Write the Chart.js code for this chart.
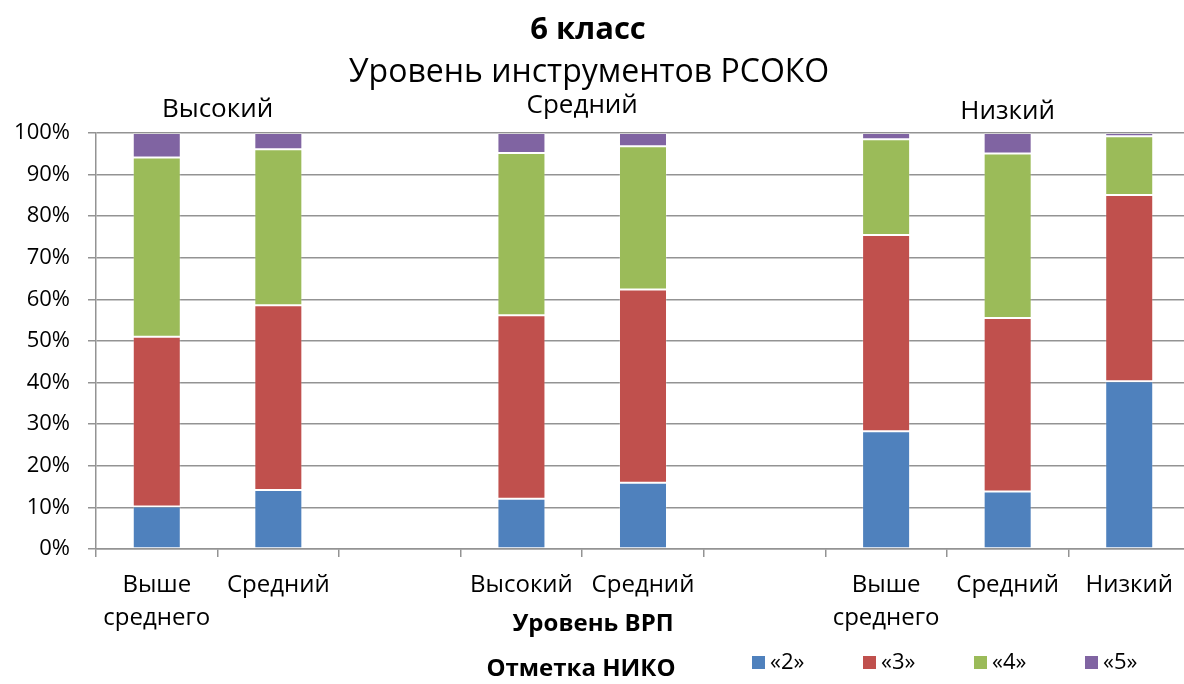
<!DOCTYPE html>
<html>
<head>
<meta charset="utf-8">
<script src="https://cdn.jsdelivr.net/npm/chart.js@4.4.1/dist/chart.umd.min.js"></script>
<style>
  html, body { margin: 0; padding: 0; background: #fff; overflow: hidden; }
  #wrap { width: 1192px; height: 684px; }
</style>
</head>
<body>
<div id="wrap"><canvas id="grafico" width="1192" height="684"></canvas></div>
<script>
// categorias (uroven VRP), slots vacios separan los grupos
const categorias = [
    ['Выше', 'среднего'], 'Средний', '',
    'Высокий', 'Средний', '',
    ['Выше', 'среднего'], 'Средний', 'Низкий'
];
const grupos = ['Высокий', 'Средний', 'Низкий'];
const grupoPos = [0.5, 3.5, 7];   // posicion en la escala x

const serie2 = [10.2, 14.2, null, 12.1, 15.9, null, 28.3, 13.8, 40.3];
const serie3 = [40.8, 44.4, null, 44.1, 46.5, null, 47.2, 41.7, 44.8];
const serie4 = [43.1, 37.5, null, 39.0, 34.4, null, 23.0, 39.6, 14.1];
const serie5 = [5.9, 3.9, null, 4.8, 3.2, null, 1.5, 4.9, 0.8];

const etiquetas = ['«2»', '«3»', '«4»', '«5»'];
const colores = ['#4F81BD', '#C0504D', '#9BBB59', '#8064A2'];

const fuente = "'Open Sans', 'DejaVu Sans', sans-serif";
const gris = '#939393';

const textos = {
    id: 'textos',
    afterDraw(chart) {
        const c = chart.ctx;
        const area = chart.chartArea;
        const x = chart.scales.x;
        c.save();
        c.fillStyle = '#000';
        c.textAlign = 'center';
        c.textBaseline = 'middle';

        c.font = 'bold 31px ' + fuente;
        c.fillText('6 класс', 588, 30);
        c.font = '32px ' + fuente;
        c.fillText('Уровень инструментов РСОКО', 589, 73);

        c.font = '26px ' + fuente;
        const ys = [110, 106, 112];
        grupos.forEach((g, i) => {
            c.fillText(g, x.getPixelForValue(grupoPos[i]), ys[i]);
        });

        c.font = 'bold 24px ' + fuente;
        c.fillText('Уровень ВРП', 593, area.bottom + 75);
        c.fillText('Отметка НИКО', 581, area.bottom + 120);

        // leyenda
        c.font = '22px ' + fuente;
        c.textAlign = 'left';
        chart.data.datasets.forEach((ds, i) => {
            const lx = 752 + i * 111;
            const ly = area.bottom + 114;
            c.fillStyle = ds.backgroundColor;
            c.fillRect(lx, ly - 7, 13, 13);
            c.fillStyle = '#000';
            c.fillText(ds.label, lx + 18, ly);
        });
        c.restore();
    }
};

const series = [serie2, serie3, serie4, serie5];
const ctx = document.getElementById('grafico').getContext('2d');
const config = {
    type: 'bar',
    data: {
        labels: categorias,
        datasets: series.map((s, i) => ({
            label: etiquetas[i],
            data: s,
            backgroundColor: colores[i],
            borderColor: 'rgba(255,255,255,0.2)',
            borderWidth: 1,
            borderSkipped: false,
            categoryPercentage: 1,
            barPercentage: 0.395
        }))
    },
    options: {
        responsive: false,
        animation: false,
        layout: { padding: { top: 133, right: 2, bottom: 0, left: 0 } },
        plugins: {
            legend: { display: false },
            title: { display: false },
            tooltip: { enabled: false }
        },
        scales: {
            x: {
                stacked: true,
                afterFit: (s) => { s.height = 135; },
                grid: {
                    offset: true,
                    drawOnChartArea: false,
                    drawTicks: true,
                    tickLength: 8,
                    color: gris,
                    lineWidth: 1.5
                },
                border: { color: gris, width: 1.5 },
                ticks: {
                    color: '#000',
                    font: { family: fuente, size: 24, lineHeight: 1.4 },
                    padding: 11,
                    maxRotation: 0,
                    autoSkip: false
                }
            },
            y: {
                stacked: true,
                min: 0,
                max: 100,
                afterFit: (s) => { s.width = 96; },
                grid: { color: gris, lineWidth: 1.5, tickLength: 8 },
                border: { color: gris, width: 1.5 },
                ticks: {
                    stepSize: 10,
                    color: '#000',
                    padding: 18,
                    font: { family: fuente, size: 22 },
                    callback: v => v + '%'
                }
            }
        }
    },
    plugins: [textos]
};
const miGrafico = new Chart(ctx, config);
</script>
</body>
</html>
